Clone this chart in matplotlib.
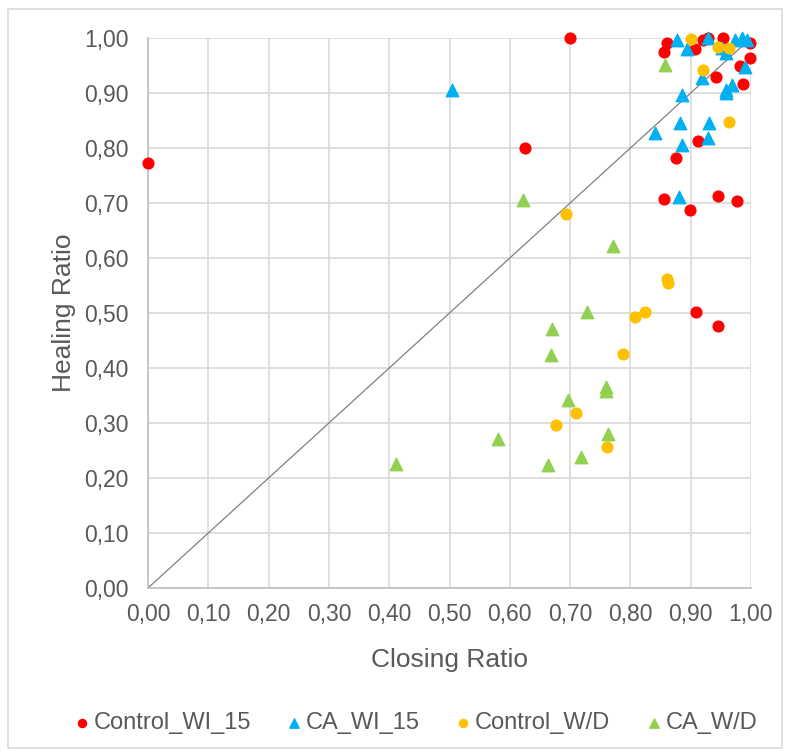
import matplotlib

matplotlib.use("Agg")
import matplotlib.pyplot as plt
from matplotlib.patches import Rectangle
from matplotlib.ticker import FuncFormatter, MultipleLocator

plt.rcParams["font.family"] = ["Liberation Sans", "DejaVu Sans"]

# Control_WI_15 (red circles)
ctrl_wi_x = [0.00, 0.70, 0.625, 0.861, 0.855, 0.907, 0.921, 0.929, 0.954, 0.998, 0.998,
             0.981, 0.942, 0.987, 0.912, 0.876, 0.855, 0.899, 0.946, 0.976, 0.909, 0.946]
ctrl_wi_y = [0.773, 1.00, 0.80, 0.991, 0.974, 0.980, 0.997, 1.00, 1.00, 0.991, 0.964,
             0.950, 0.930, 0.916, 0.813, 0.782, 0.708, 0.688, 0.713, 0.704, 0.502, 0.476]

# CA_WI_15 (blue triangles)
ca_wi_x = [0.504, 0.877, 0.894, 0.929, 0.974, 0.985, 0.993, 0.959, 0.952, 0.990, 0.918,
           0.959, 0.968, 0.959, 0.885, 0.883, 0.931, 0.841, 0.929, 0.885, 0.880]
ca_wi_y = [0.906, 0.996, 0.980, 1.00, 0.997, 1.00, 0.997, 0.973, 0.982, 0.948, 0.927,
           0.906, 0.915, 0.900, 0.897, 0.845, 0.845, 0.827, 0.818, 0.806, 0.711]

# Control_W/D (orange circles)
ctrl_wd_x = [0.901, 0.946, 0.963, 0.920, 0.964, 0.860, 0.862, 0.824, 0.808, 0.788,
             0.709, 0.761, 0.677, 0.694]
ctrl_wd_y = [0.999, 0.983, 0.982, 0.942, 0.847, 0.562, 0.555, 0.502, 0.492, 0.425,
             0.318, 0.256, 0.297, 0.680]

# CA_W/D (green triangles)
ca_wd_x = [0.858, 0.622, 0.771, 0.728, 0.670, 0.669, 0.759, 0.696, 0.763, 0.718,
           0.663, 0.580, 0.412, 0.760]
ca_wd_y = [0.951, 0.706, 0.621, 0.501, 0.471, 0.424, 0.359, 0.341, 0.280, 0.239,
           0.224, 0.271, 0.226, 0.365]

W, H = 790, 753
fig = plt.figure(figsize=(W / 100, H / 100), dpi=100)
ax = fig.add_axes([148 / W, 1 - 588 / H, 603 / W, 550 / H])

grid_col = "#d9d9d9"
text_col = "#595959"

ax.plot([0, 1], [0, 1], color="#808080", lw=0.9, zorder=2)

ax.scatter(ctrl_wi_x, ctrl_wi_y, s=60, marker="o", color="#ff0000", label="Control_WI_15", zorder=3, clip_on=False)
ax.scatter(ca_wi_x, ca_wi_y, s=80, marker="^", color="#00b0f0", label="CA_WI_15", zorder=3, clip_on=False)
ax.scatter(ctrl_wd_x, ctrl_wd_y, s=60, marker="o", color="#ffc000", label="Control_W/D", zorder=3, clip_on=False)
ax.scatter(ca_wd_x, ca_wd_y, s=80, marker="^", color="#92d050", label="CA_W/D", zorder=3, clip_on=False)

ax.set_xlim(0, 1)
ax.set_ylim(0, 1)
ax.xaxis.set_major_locator(MultipleLocator(0.1))
ax.yaxis.set_major_locator(MultipleLocator(0.1))
fmt = FuncFormatter(lambda v, _: f"{v:.2f}".replace(".", ","))
ax.xaxis.set_major_formatter(fmt)
ax.yaxis.set_major_formatter(fmt)
ax.grid(True, color=grid_col, lw=1.2, zorder=0)
ax.set_axisbelow(True)

for side in ["top", "right"]:
    ax.spines[side].set_visible(False)
for side in ["left", "bottom"]:
    ax.spines[side].set_color("#bfbfbf")
    ax.spines[side].set_linewidth(1.2)

ax.tick_params(length=0, labelsize=16.5, labelcolor=text_col)
ax.tick_params(axis="y", pad=14)
ax.tick_params(axis="x", pad=11)
ax.set_xlabel("Closing Ratio", fontsize=19, color=text_col, labelpad=16)
ax.set_ylabel("Healing Ratio", fontsize=19, color=text_col, labelpad=6)

fig.legend(loc="center", bbox_to_anchor=(0.522, 1 - 723 / H), ncol=4, frameon=False,
           fontsize=17, labelcolor=text_col, handletextpad=-0.1, columnspacing=1.23,
           markerscale=0.75, scatterpoints=1, handlelength=1.2)

fig.patches.append(Rectangle((8 / W, 1 - 748 / H), 774 / W, 739 / H, transform=fig.transFigure,
                             fill=False, edgecolor="#d9d9d9", lw=1.2))

fig.savefig("out.png", dpi=100, facecolor="white")
